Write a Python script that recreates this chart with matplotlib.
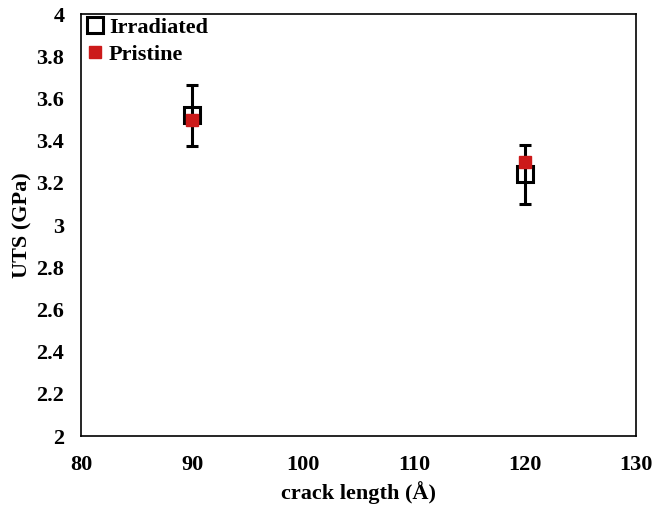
import numpy as np
import matplotlib.pyplot as plt
from matplotlib.lines import Line2D

plt.rcParams['font.family'] = ['Liberation Serif', 'DejaVu Serif']
plt.rcParams['font.weight'] = 'bold'

# crack lengths (Å)
crack_length = [90, 120]
# ultimate tensile strength (GPa)
uts_irradiated = [3.52, 3.24]
err_irradiated = [0.145, 0.14]
uts_pristine = [3.50, 3.30]

fig = plt.figure(figsize=(6.56, 5.09), dpi=100)
ax = fig.add_axes([0.1235, 0.1434, 0.846, 0.829])

ax.errorbar(crack_length, uts_irradiated, yerr=err_irradiated, fmt='s',
            mfc='none', mec='black', mew=2.2, ms=12, ecolor='black',
            elinewidth=2.2, capsize=4.5, capthick=2.2, zorder=2)
ax.plot(crack_length, uts_pristine, 's', color='#cc1a1a', ms=8, zorder=3)

ax.set_xlim(80, 130)
ax.set_ylim(2, 4)
ax.set_xticks(np.arange(80, 131, 10))
ax.set_yticks(np.arange(2, 4.01, 0.2))
ax.set_yticklabels(['2', '2.2', '2.4', '2.6', '2.8', '3', '3.2', '3.4',
                    '3.6', '3.8', '4'])
ax.tick_params(length=0, labelsize=16)
ax.tick_params(axis='x', pad=14)
ax.tick_params(axis='y', pad=12)
for s in ax.spines.values():
    s.set_linewidth(1.2)

ax.set_xlabel('crack length (Å)', fontsize=16, fontweight='bold', labelpad=4)
ax.set_ylabel('UTS (GPa)', fontsize=16, fontweight='bold', labelpad=3)

handles = [
    Line2D([], [], ls='none', marker='s', mfc='none', mec='black', mew=2.2, ms=12),
    Line2D([], [], ls='none', marker='s', color='#cc1a1a', ms=8),
]
ax.legend(handles, ['Irradiated', 'Pristine'], loc='upper left', frameon=False,
          fontsize=16, handletextpad=0.1, borderaxespad=0.05, labelspacing=0.3,
          handlelength=1.0, borderpad=0.1)

fig.savefig('out.png', dpi=100)
